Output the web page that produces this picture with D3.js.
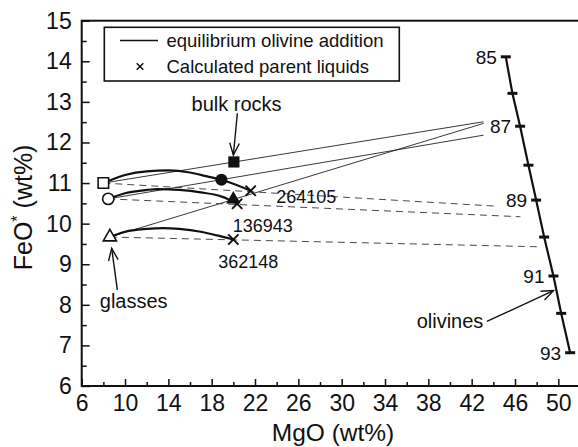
<!DOCTYPE html>
<html>
<head>
<meta charset="utf-8">
<script src="https://cdn.jsdelivr.net/npm/d3@7"></script>
<style>
    body { margin: 0; background: #fff; }
    svg text { font-family: "Liberation Sans", Arial, Helvetica, sans-serif; fill: #111; }
</style>
</head>
<body>
<div id="chart"></div>
<script>
// -------------------------------------
// Data
// -------------------------------------

// glasses: open square, open circle, open triangle
var glassMgO = [8.0, 8.45, 8.6]
var glassFeO = [11.0, 10.61, 9.67]
var glassShape = ['square', 'circle', 'triangle']

// bulk rocks: filled square, filled circle, filled triangle
var bulkMgO = [20.05, 18.9, 20.0]
var bulkFeO = [11.52, 11.08, 10.6]
var bulkShape = ['square', 'circle', 'triangle']

// calculated parent liquids (crosses)
var parentMgO = [21.6, 20.35, 20.0]
var parentFeO = [10.81, 10.49, 9.61]
var parentLabels = ['264105', '136943', '362148']

// equilibrium olivine addition paths
var addMgO = [
    [8.0, 10, 12, 14, 16, 17.5, 18.9, 21.6],
    [8.45, 10, 12, 13, 15, 17, 19, 20.35],
    [8.6, 10, 12, 13.5, 15, 17, 18.5, 20.0]
]
var addFeO = [
    [11.0, 11.2, 11.29, 11.31, 11.26, 11.17, 11.08, 10.81],
    [10.61, 10.75, 10.83, 10.85, 10.83, 10.77, 10.66, 10.49],
    [9.67, 9.8, 9.87, 9.89, 9.87, 9.8, 9.71, 9.61]
]

// thin mixing lines from each glass towards olivine
var mixEndMgO = [43.1, 43.1, 43.1]
var mixEndFeO = [12.51, 12.18, 12.47]

// dashed lines from each glass
var dashEndMgO = [44.3, 46.5, 48.2]
var dashEndFeO = [10.43, 10.17, 9.43]

// olivine compositions (Fo)
var olivineFo = [85, 86, 87, 88, 89, 90, 91, 92, 93]
var olivineMgO = [45.15, 45.76, 46.47, 47.24, 47.95, 48.69, 49.55, 50.26, 51.09]
var olivineFeO = [14.11, 13.21, 12.4, 11.44, 10.58, 9.67, 8.71, 7.79, 6.82]
var olivineLabelled = [85, 87, 89, 91, 93]

// axis ticks
var xMajorTicks = [6, 10, 14, 18, 22, 26, 30, 34, 38, 42, 46, 50]
var xMinorTicks = [8, 12, 16, 20, 24, 28, 32, 36, 40, 44, 48]
var yMajorTicks = [6, 7, 8, 9, 10, 11, 12, 13, 14, 15]
var yMinorTicks = [6.5, 7.5, 8.5, 9.5, 10.5, 11.5, 12.5, 13.5, 14.5]

// annotations: text, anchor point, arrow tail -> tip
var notes = [
    { text: 'bulk rocks', mgo: 20.3, feo: 12.77, from: [20.37, 12.72], to: [20.0, 11.69] },
    { text: 'glasses', mgo: 10.8, feo: 7.92, from: [9.29, 8.37], to: [8.77, 9.39] },
    { text: 'olivines', mgo: 40.0, feo: 7.44, from: [43.4, 7.59], to: [49.55, 8.35] }
]
var parentLabelMgO = [23.95, 19.95, 18.6]
var parentLabelFeO = [10.5, 9.8, 8.9]

// -------------------------------------
// Layout
// -------------------------------------

var W = 578, H = 447
var margin = { top: 20.7, left: 81.7, bottom: 61, right: -2 }
var width = W - margin.left - margin.right
var height = H - margin.top - margin.bottom

var svg = d3.select('#chart')
    .append('svg')
    .attr('width', W)
    .attr('height', H)

var g = svg.append('g')
    .attr('transform', `translate(${margin.left},${margin.top})`)

var x = d3.scaleLinear().domain([6, 52]).range([0, width])
var y = d3.scaleLinear().domain([6, 15]).range([height, 0])

// -------------------------------------
// Axes (ticks pointing inwards)
// -------------------------------------

var xMinor = g.append('g')
    .attr('transform', `translate(0,${height})`)
    .call(d3.axisBottom(x).tickValues(xMinorTicks).tickSize(-4).tickFormat(''))
var xMajor = g.append('g')
    .attr('transform', `translate(0,${height})`)
    .call(d3.axisBottom(x).tickValues(xMajorTicks).tickSize(-7).tickPadding(9).tickFormat(d3.format('d')))
var yMinor = g.append('g')
    .call(d3.axisLeft(y).tickValues(yMinorTicks).tickSize(-5).tickFormat(''))
var yMajor = g.append('g')
    .call(d3.axisLeft(y).tickValues(yMajorTicks).tickSize(-8).tickPadding(10).tickFormat(d3.format('d')))

;[xMinor, xMajor, yMinor, yMajor].forEach(function (ax) {
    ax.select('.domain').remove()
    ax.selectAll('.tick line').attr('stroke', '#111').attr('stroke-width', 1.5)
    ax.selectAll('.tick text').style('font-size', '23px').attr('fill', '#111')
})

// frame
g.append('rect')
    .attr('x', 0).attr('y', 0)
    .attr('width', width).attr('height', height)
    .attr('fill', 'none')
    .attr('stroke', '#111')
    .attr('stroke-width', 2)

// axis titles
svg.append('text')
    .attr('x', margin.left + x(29.2))
    .attr('y', 441)
    .attr('text-anchor', 'middle')
    .style('font-size', '24.5px')
    .text('MgO (wt%)')

var yTitle = svg.append('text')
    .attr('transform', `translate(32,${margin.top + y(10.4)}) rotate(-90)`)
    .attr('text-anchor', 'middle')
    .style('font-size', '25px')
yTitle.append('tspan').text('FeO')
yTitle.append('tspan').attr('dy', -9).style('font-size', '16px').text('*')
yTitle.append('tspan').attr('dy', 9).text(' (wt%)')

// -------------------------------------
// Lines
// -------------------------------------

// thin mixing lines
glassMgO.forEach(function (m, i) {
    g.append('line')
        .attr('x1', x(m)).attr('y1', y(glassFeO[i]))
        .attr('x2', x(mixEndMgO[i])).attr('y2', y(mixEndFeO[i]))
        .attr('stroke', '#222').attr('stroke-width', 0.9)
})

// dashed lines
glassMgO.forEach(function (m, i) {
    g.append('line')
        .attr('x1', x(m)).attr('y1', y(glassFeO[i]))
        .attr('x2', x(dashEndMgO[i])).attr('y2', y(dashEndFeO[i]))
        .attr('stroke', '#333').attr('stroke-width', 0.9)
        .attr('stroke-dasharray', '7,5')
})

// equilibrium olivine addition curves
var curve = d3.line()
    .x(d => x(d[0]))
    .y(d => y(d[1]))
    .curve(d3.curveMonotoneX)

addMgO.forEach(function (row, i) {
    g.append('path')
        .datum(row.map((m, j) => [m, addFeO[i][j]]))
        .attr('fill', 'none')
        .attr('stroke', '#111')
        .attr('stroke-width', 2.2)
        .attr('d', curve)
})

// olivine line with Fo ticks
var olivine = olivineFo.map((fo, i) => ({ fo: fo, mgo: olivineMgO[i], feo: olivineFeO[i] }))

g.append('path')
    .datum(olivine)
    .attr('fill', 'none')
    .attr('stroke', '#111')
    .attr('stroke-width', 2.2)
    .attr('d', d3.line().x(d => x(d.mgo)).y(d => y(d.feo)))

g.selectAll('.ol-tick')
    .data(olivine)
    .enter()
    .append('line')
    .attr('class', 'ol-tick')
    .attr('x1', d => x(d.mgo) - 5).attr('x2', d => x(d.mgo) + 5)
    .attr('y1', d => y(d.feo)).attr('y2', d => y(d.feo))
    .attr('stroke', '#111').attr('stroke-width', 3)

g.selectAll('.ol-label')
    .data(olivine.filter(d => olivineLabelled.indexOf(d.fo) >= 0))
    .enter()
    .append('text')
    .attr('class', 'ol-label')
    .attr('x', d => x(d.mgo) - 9)
    .attr('y', d => y(d.feo))
    .attr('dy', '0.36em')
    .attr('text-anchor', 'end')
    .style('font-size', '19px')
    .text(d => d.fo)

// -------------------------------------
// Symbols
// -------------------------------------

var symbolType = { square: d3.symbolSquare, circle: d3.symbolCircle, triangle: d3.symbolTriangle }
var symbolSize = { square: 110, circle: 100, triangle: 75 }

glassMgO.forEach(function (m, i) {
    var s = glassShape[i]
    g.append('path')
        .attr('transform', `translate(${x(m)},${y(glassFeO[i])})`)
        .attr('d', d3.symbol().type(symbolType[s]).size(symbolSize[s]))
        .attr('fill', '#fff')
        .attr('stroke', '#111')
        .attr('stroke-width', 1.6)
})

bulkMgO.forEach(function (m, i) {
    var s = bulkShape[i]
    g.append('path')
        .attr('transform', `translate(${x(m)},${y(bulkFeO[i])})`)
        .attr('d', d3.symbol().type(symbolType[s]).size(symbolSize[s] + 15))
        .attr('fill', '#111')
})

var cross = d3.symbol().type(d3.symbolX).size(70)
parentMgO.forEach(function (m, i) {
    g.append('path')
        .attr('transform', `translate(${x(m)},${y(parentFeO[i])})`)
        .attr('d', cross)
        .attr('fill', 'none')
        .attr('stroke', '#111')
        .attr('stroke-width', 2)

    g.append('text')
        .attr('x', x(parentLabelMgO[i]))
        .attr('y', y(parentLabelFeO[i]))
        .style('font-size', '18px')
        .text(parentLabels[i])
})

// -------------------------------------
// Annotations with arrows
// -------------------------------------

function arrow(from, to) {
    var x1 = x(from[0]), y1 = y(from[1]), x2 = x(to[0]), y2 = y(to[1])
    var a = Math.atan2(y2 - y1, x2 - x1)
    var len = 13, spread = 0.38
    g.append('line')
        .attr('x1', x1).attr('y1', y1).attr('x2', x2).attr('y2', y2)
        .attr('stroke', '#111').attr('stroke-width', 1.4)
    g.append('path')
        .attr('d', `M${x2 - len * Math.cos(a - spread)},${y2 - len * Math.sin(a - spread)}L${x2},${y2}L${x2 - len * Math.cos(a + spread)},${y2 - len * Math.sin(a + spread)}`)
        .attr('fill', 'none')
        .attr('stroke', '#111').attr('stroke-width', 1.4)
}

notes.forEach(function (n) {
    g.append('text')
        .attr('x', x(n.mgo))
        .attr('y', y(n.feo))
        .attr('text-anchor', 'middle')
        .style('font-size', '20px')
        .text(n.text)
    arrow(n.from, n.to)
})

// -------------------------------------
// Legend
// -------------------------------------

var legend = svg.append('g')
legend.append('rect')
    .attr('x', 104.3).attr('y', 27.3)
    .attr('width', 295).attr('height', 53.7)
    .attr('fill', '#fff')
    .attr('stroke', '#111')
    .attr('stroke-width', 1.6)
legend.append('line')
    .attr('x1', 120).attr('x2', 158).attr('y1', 40.5).attr('y2', 40.5)
    .attr('stroke', '#111').attr('stroke-width', 1.5)
legend.append('text')
    .attr('x', 166.5).attr('y', 40.5).attr('dy', '0.36em')
    .style('font-size', '18.5px')
    .text('equilibrium olivine addition')
legend.append('path')
    .attr('transform', 'translate(140,66.5)')
    .attr('d', d3.symbol().type(d3.symbolX).size(30))
    .attr('fill', 'none').attr('stroke', '#111').attr('stroke-width', 1.5)
legend.append('text')
    .attr('x', 166.5).attr('y', 66.5).attr('dy', '0.36em')
    .style('font-size', '18.5px')
    .text('Calculated parent liquids')
</script>
</body>
</html>
